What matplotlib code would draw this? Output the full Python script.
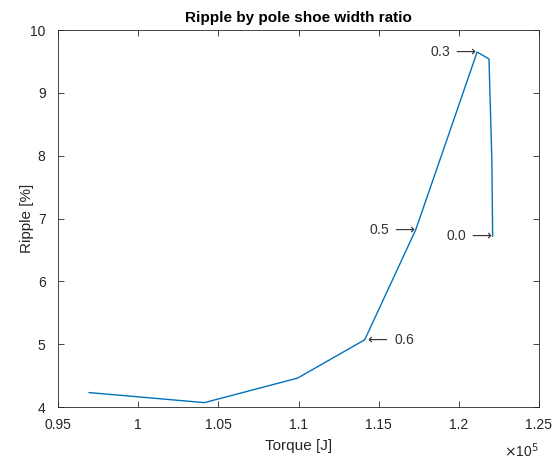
import numpy as np
import matplotlib.pyplot as plt

plt.rcParams['font.family'] = ['Liberation Sans', 'DejaVu Sans']
plt.rcParams['mathtext.fontset'] = 'dejavusans'

# pole shoe width ratio, torque and ripple
ratio = [0.0, 0.1, 0.2, 0.3, 0.4, 0.5, 0.6, 0.7, 0.8, 0.9]
torque = [1.2211, 1.2206, 1.2188, 1.2114, 1.1925, 1.1731, 1.1413, 1.0994, 1.0413, 0.9694]
ripple = [6.72, 7.93, 9.54, 9.65, 8.25, 6.82, 5.07, 4.46, 4.07, 4.23]

# which points get a label, and on which side
right_labels = [0.0, 0.3, 0.5]
left_labels = [0.6]

fig = plt.figure(figsize=(5.59, 4.62), dpi=100)
ax = fig.add_axes([0.1038, 0.119, 0.8604, 0.816])

x = np.array(torque) * 1e5
ax.plot(x, ripple, color='#0072BD', lw=1)

for r, tx, ry in zip(ratio, x, ripple):
    if r in right_labels:
        ax.text(tx, ry, f'{r:.1f} ' + r'$\longrightarrow$', ha='right', va='center',
                fontsize=10, color='#333333')
    elif r in left_labels:
        ax.text(tx, ry, r'$\longleftarrow$' + f' {r:.1f}', ha='left', va='center',
                fontsize=10, color='#333333')

ax.set_xlim(0.95e5, 1.25e5)
ax.set_ylim(4, 10)
ax.set_xticks(np.arange(0.95, 1.2501, 0.05) * 1e5)
ax.set_xticklabels(['0.95', '1', '1.05', '1.1', '1.15', '1.2', '1.25'])
ax.set_yticks(range(4, 11))
ax.tick_params(direction='in', top=True, right=True, labelsize=10, colors='#262626',
               length=4, width=0.6)
ax.tick_params(axis='x', pad=8)
ax.tick_params(axis='y', pad=9)
for s in ax.spines.values():
    s.set_color('#262626')
    s.set_linewidth(0.6)

ax.text(1.0, -0.09, r'$\times$10$^5$', transform=ax.transAxes, ha='right', va='top',
        fontsize=10, color='#262626')

ax.set_xlabel('Torque [J]', fontsize=11, color='#262626', labelpad=5)
ax.set_ylabel('Ripple [%]', fontsize=11, color='#262626', labelpad=-3)
ax.set_title('Ripple by pole shoe width ratio', fontsize=11, fontweight='bold', color='black')

fig.savefig('out.png', dpi=100)
